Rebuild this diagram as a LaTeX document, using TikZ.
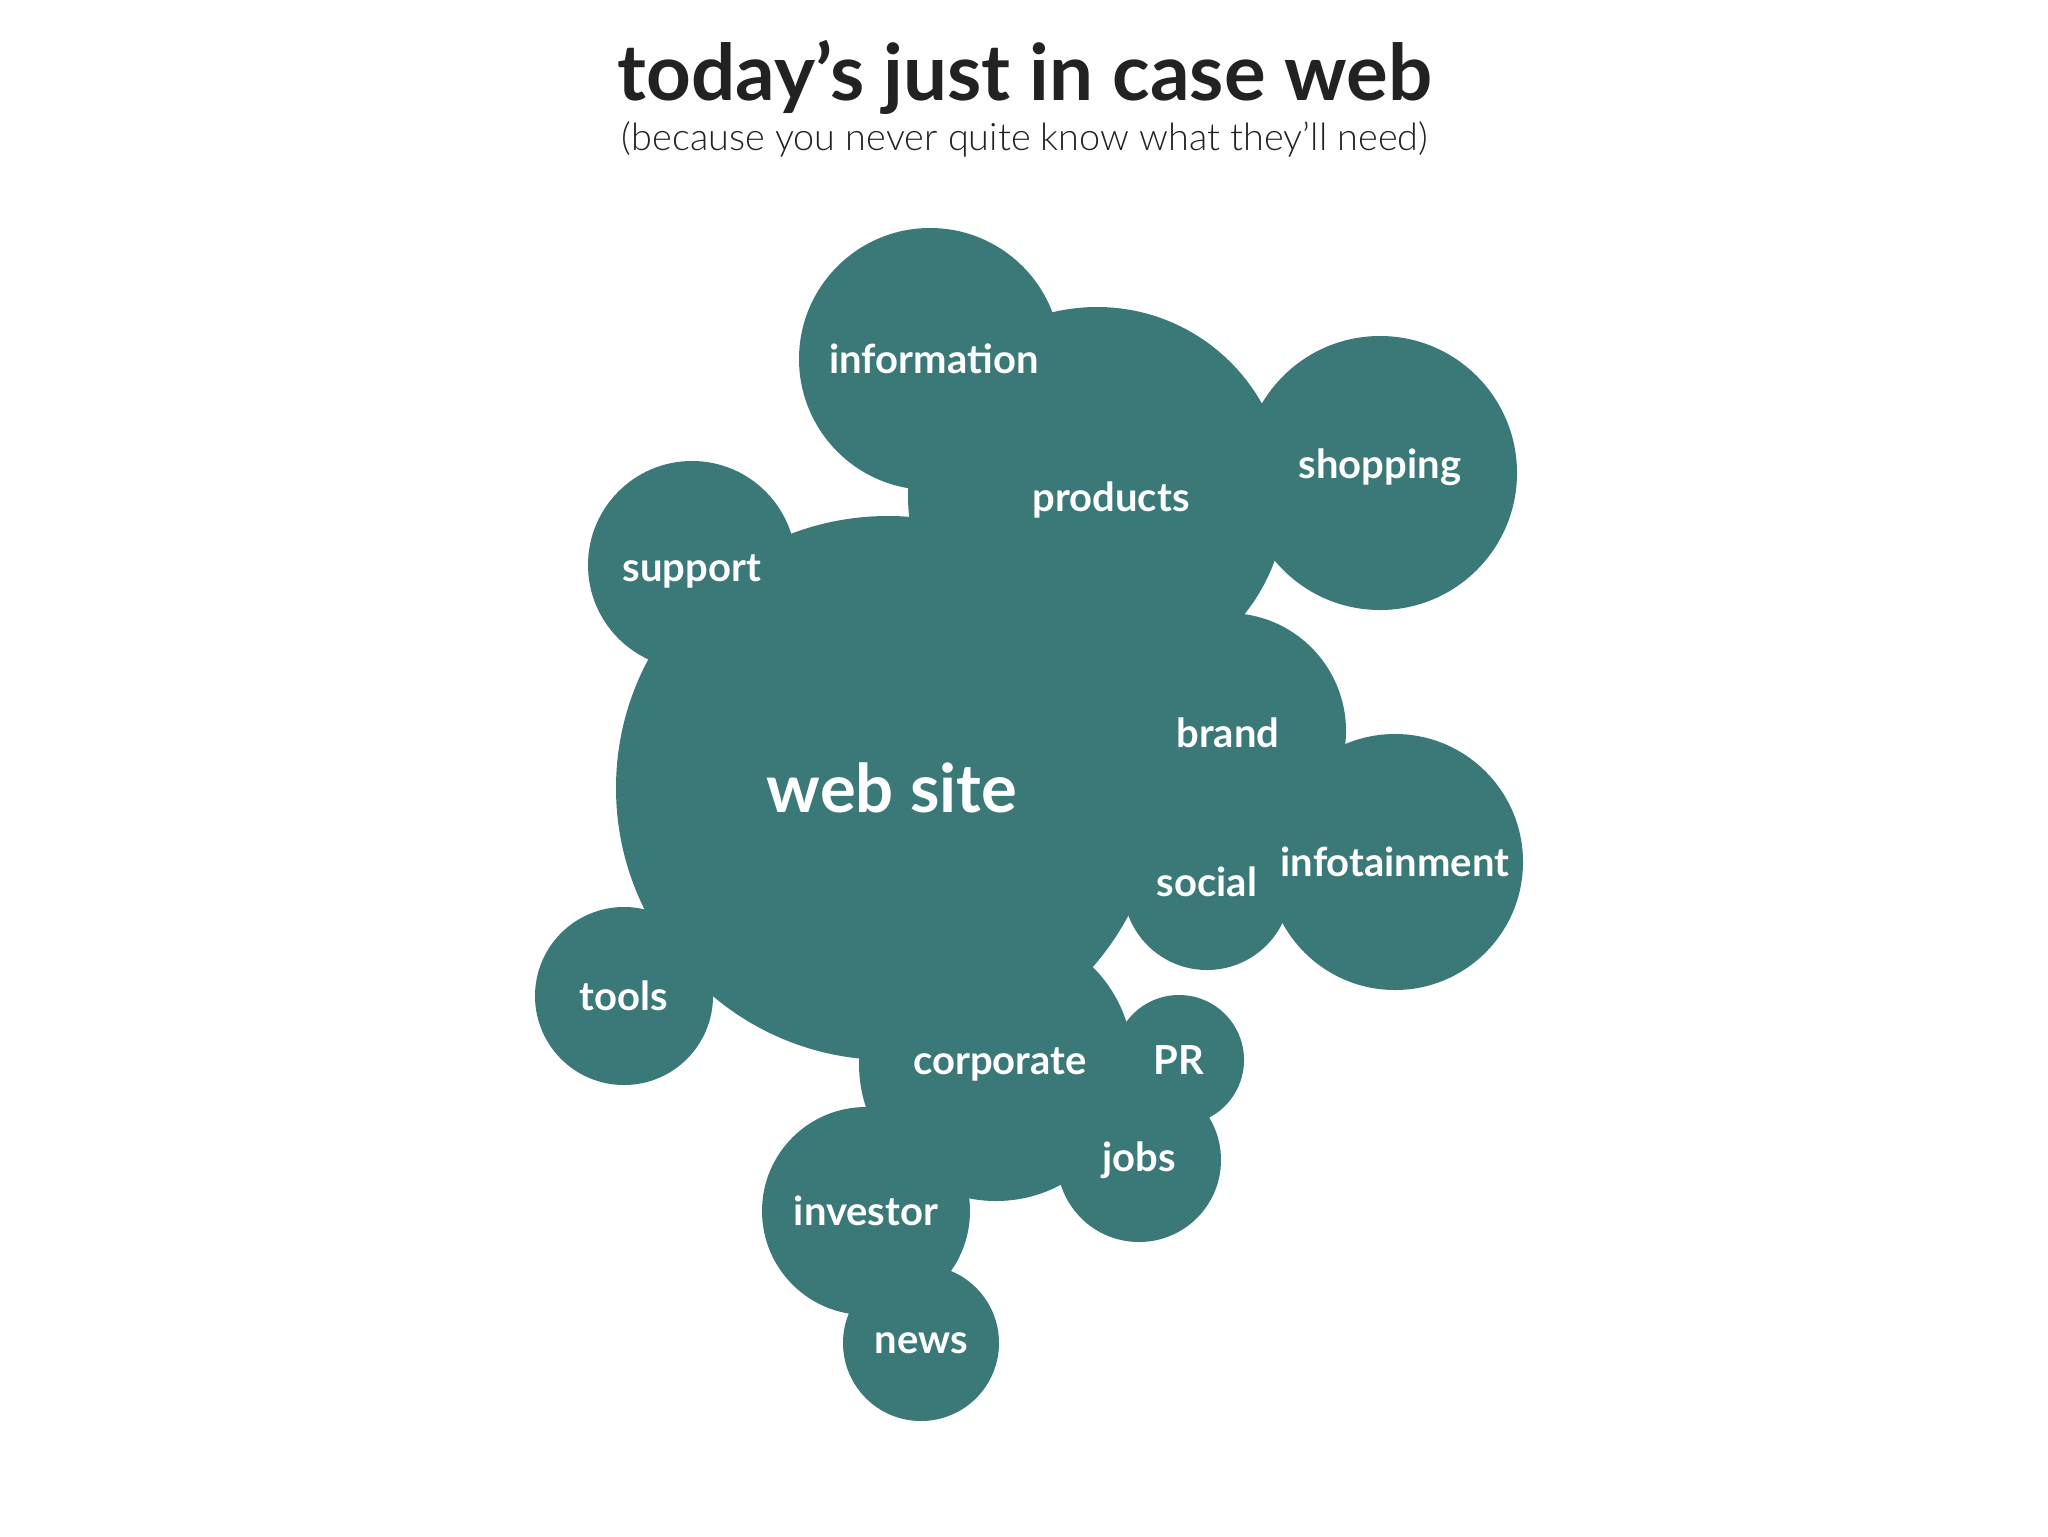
\documentclass[tikz,border=0pt]{standalone}
\usepackage{fontspec}
\setmainfont{Lato}
\newfontfamily\lightfont{Lato Light}
\usepackage{tikz}
\usetikzlibrary{positioning}

\definecolor{teal}{HTML}{3B7979}
\definecolor{ink}{HTML}{222222}

\tikzset{
  bubble/.style={circle, fill=teal, inner sep=0pt},
  tag/.style={text=white, font=\fontsize{20}{22}\selectfont\bfseries},
}

\begin{document}
\begin{tikzpicture}[x=0.5pt, y=-0.5pt]
\useasboundingbox [fill=white] (0,0) rectangle (2048,1536);

% heading
\node [text=ink, font=\fontsize{39}{42}\selectfont\bfseries] (title) at (1025,77) {today’s just in case web};
\node [text=ink, font=\fontsize{18.9}{21}\selectfont\lightfont] (subtitle) at (1025,139) {(because you never quite know what they’ll need)};

% bubbles
\node [bubble, minimum size=272pt] (website) at (888,788) {};
\node [bubble, minimum size=189pt] (products) at (1097,496) {};
\node [bubble, minimum size=131pt] (information) at (930,359) {};
\node [bubble, minimum size=137pt] (shopping) at (1380,473) {};
\node [bubble, minimum size=104pt] (support) at (692,565) {};
\node [bubble, minimum size=118pt] (brand) at (1228,731) {};
\node [bubble, minimum size=128pt] (infotainment) at (1395,862) {};
\node [bubble, minimum size=84pt] (social) at (1207,886) {};
\node [bubble, minimum size=89pt] (tools) at (624,996) {};
\node [bubble, minimum size=137pt] (corporate) at (996,1064) {};
\node [bubble, minimum size=65pt] (pr) at (1179,1060) {};
\node [bubble, minimum size=82pt] (jobs) at (1139,1160) {};
\node [bubble, minimum size=104pt] (investor) at (866,1211) {};
\node [bubble, minimum size=78pt] (news) at (921,1343) {};

% labels
\node [tag, font=\fontsize{33.5}{36}\selectfont\bfseries] at ([xshift=2pt]website) {web site};
\node [tag] at ([xshift=7pt,yshift=-2pt]products) {products};
\node [tag] at ([xshift=2pt]information) {information};
\node [tag] at ([yshift=3pt]shopping) {shopping};
\node [tag] at ([yshift=-3pt]support) {support};
\node [tag] at ([yshift=-1pt]brand) {brand};
\node [tag] at (infotainment) {infotainment};
\node [tag] at ([yshift=2pt]social) {social};
\node [tag] at (tools) {tools};
\node [tag] at ([xshift=2pt]corporate) {corporate};
\node [tag] at (pr) {PR};
\node [tag] at (jobs) {jobs};
\node [tag] at (investor) {investor};
\node [tag] at (news) {news};
\end{tikzpicture}
\end{document}
